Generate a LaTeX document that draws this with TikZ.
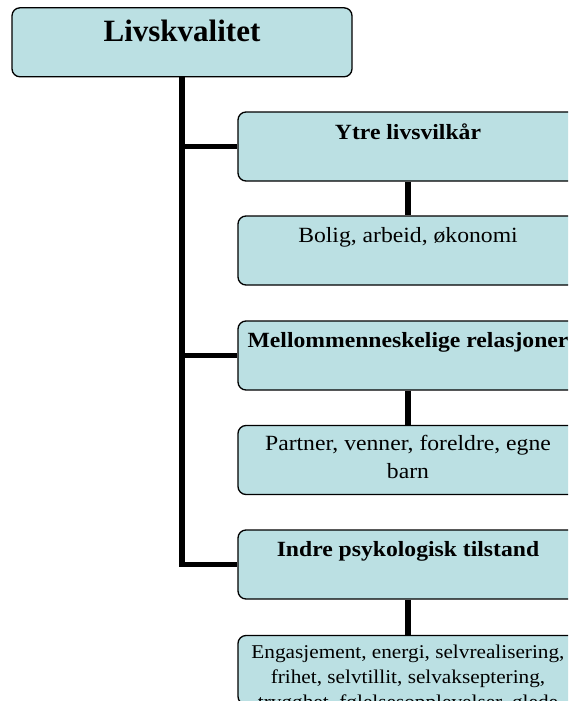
\documentclass[tikz,border=0pt]{standalone}
\usepackage{fontspec}
\setmainfont{Liberation Serif}
\newfontfamily\wide{Liberation Serif}[FakeStretch=1.09]
\definecolor{boxfill}{RGB}{187,224,227}
\begin{document}
\begin{tikzpicture}[x=1pt,y=-1pt,
  box/.style={draw=black, line width=1.3pt, fill=boxfill, rounded corners=8pt,
              minimum width=340pt, minimum height=69pt, inner sep=0pt},
  conn/.style={line width=5.5pt, draw=black, line join=miter},
  lbl/.style={anchor=base, inner sep=0pt, align=center}]
\useasboundingbox (0,0) rectangle (568,701);
\clip (0,0) rectangle (568,701);
% connectors (drawn first, boxes on top)
\coordinate (trunk) at (182,77);
\node[box] (top) at (182,42.3) {};
\node[box] (ytre) at (408,146.5) {};
\node[box] (bolig) at (408,250.5) {};
\node[box] (mell) at (408,355.5) {};
\node[box] (part) at (408,460) {};
\node[box] (indre) at (408,564.5) {};
\node[box] (eng) at (408,670) {};
\draw[conn] (top.south) |- (ytre.west);
\draw[conn] (top.south) |- (mell.west);
\draw[conn] (top.south) |- (indre.west);
\draw[conn] (ytre.south) -- (bolig.north);
\draw[conn] (mell.south) -- (part.north);
\draw[conn] (indre.south) -- (eng.north);
% texts
\node[lbl] (tTop) at (182,41.7) {\fontsize{31}{37}\selectfont\bfseries Livskvalitet};
\node[lbl] (tYtre) at (408,139.3) {\wide\fontsize{21.7}{28}\selectfont\bfseries Ytre livsvilkår};
\node[lbl] (tBolig) at (408,242.7) {\wide\fontsize{21.7}{28}\selectfont Bolig, arbeid, økonomi};
\node[lbl] (tMell) at (408,347.5) {\wide\fontsize{21.7}{28}\selectfont\bfseries Mellommenneskelige relasjoner};
\node[lbl] (tPart) at (408,450) {\parbox[t]{400pt}{\centering\wide\fontsize{21.7}{28}\selectfont Partner, venner, foreldre, egne\\barn}};
\node[lbl] (tIndre) at (408,556.5) {\wide\fontsize{21.7}{28}\selectfont\bfseries Indre psykologisk tilstand};
\node[lbl] (tEng) at (408,658) {\parbox[t]{400pt}{\centering\wide\fontsize{19.5}{25}\selectfont Engasjement, energi, selvrealisering,\\frihet, selvtillit, selvakseptering,\\trygghet, følelsesopplevelser, glede}};
\end{tikzpicture}
\end{document}
